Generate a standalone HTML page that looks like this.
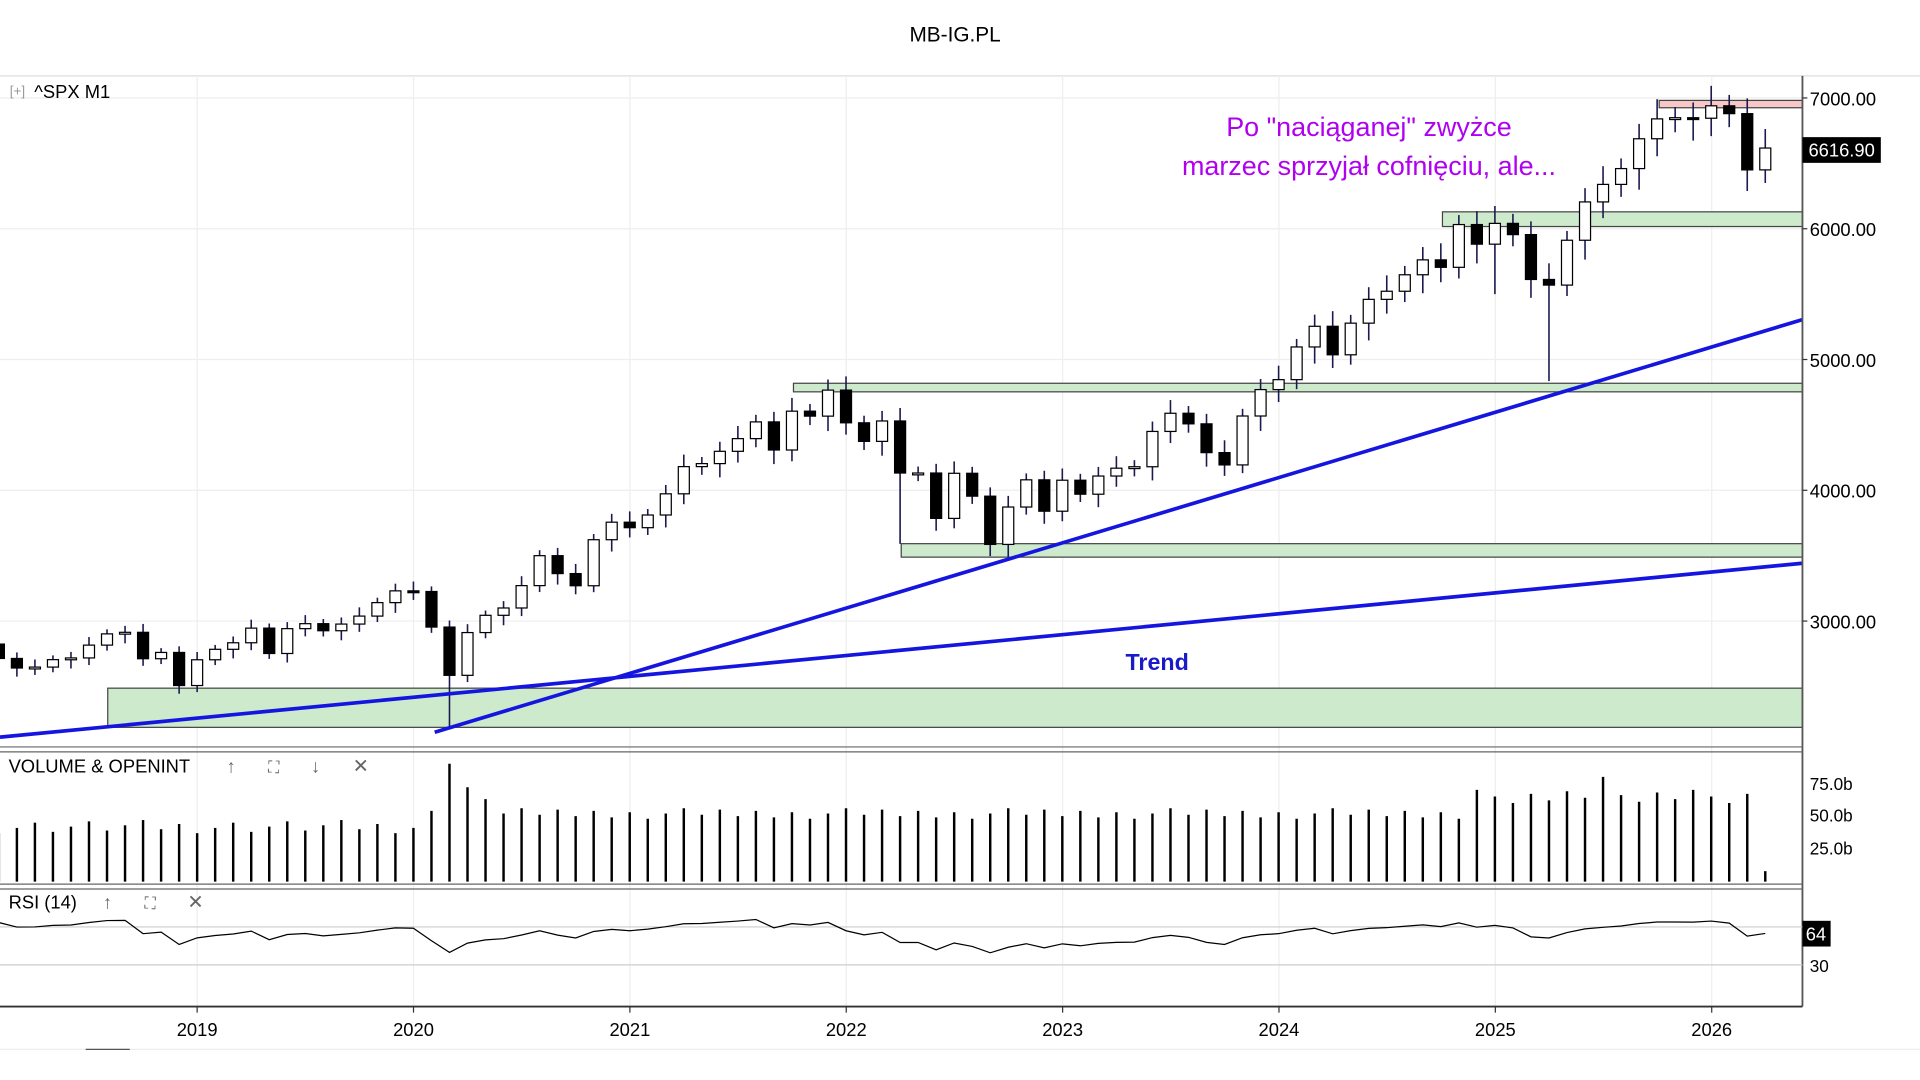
<!DOCTYPE html>
<html><head><meta charset="utf-8">
<style>html,body{margin:0;padding:0;background:#fff;width:1920px;height:1080px;overflow:hidden}</style>
</head><body>
<svg id="s" width="1920" height="1080" viewBox="0 0 1568 882" xmlns="http://www.w3.org/2000/svg" font-family="Liberation Sans, sans-serif">
<rect width="1568" height="882" fill="#fff"/>
<text x="780" y="34" font-size="17" text-anchor="middle" fill="#000">MB-IG.PL</text>
<line x1="0" y1="62" x2="1568" y2="62" stroke="#ddd"/>
<g id="grid" stroke="#eee" stroke-width="1"></g>
<rect x="1355" y="82" width="117" height="6" fill="#f8c8c8" stroke="#444" stroke-width="1"/>
<rect x="1178" y="173" width="294" height="12" fill="#cdeacd" stroke="#444" stroke-width="1"/>
<rect x="648" y="313" width="824" height="7" fill="#cdeacd" stroke="#444" stroke-width="1"/>
<rect x="736" y="444" width="736" height="11" fill="#cdeacd" stroke="#444" stroke-width="1"/>
<rect x="88" y="562" width="1384" height="32" fill="#cdeacd" stroke="#444" stroke-width="1"/>
<g id="candles"></g>
<line x1="0" y1="602" x2="1472" y2="460" stroke="#1515e0" stroke-width="3"/>
<line x1="355" y1="598" x2="1472" y2="261" stroke="#1515e0" stroke-width="3"/>
<text x="945" y="547" font-size="19" font-weight="bold" fill="#1a1ac8" text-anchor="middle">Trend</text>
<text x="1118" y="111" font-size="22" fill="#b000f0" text-anchor="middle">Po "naciąganej" zwyżce</text>
<text x="1118" y="143" font-size="22" fill="#b000f0" text-anchor="middle">marzec sprzyjał cofnięciu, ale...</text>
<text x="8" y="78" font-size="11" fill="#999">[+]</text>
<text x="28" y="80" font-size="15" fill="#000">^SPX  M1</text>
<line x1="1472" y1="62" x2="1472" y2="822" stroke="#555" stroke-width="1.5"/>
<g font-size="15" fill="#000" id="yl"></g>
<rect x="1472" y="112" width="64" height="21" fill="#000"/>
<text x="1504" y="128" font-size="15" fill="#fff" text-anchor="middle">6616.90</text>
<line x1="0" y1="610" x2="1472" y2="610" stroke="#666"/>
<line x1="0" y1="614" x2="1472" y2="614" stroke="#666"/>
<line x1="0" y1="722" x2="1472" y2="722" stroke="#666"/>
<line x1="0" y1="726" x2="1472" y2="726" stroke="#666"/>
<line x1="0" y1="822" x2="1472" y2="822" stroke="#333" stroke-width="1.5"/>
<text x="7" y="631" font-size="15">VOLUME &amp; OPENINT</text>
<text x="185" y="631" font-size="15" fill="#666">↑</text>
<text x="219" y="631" font-size="13" fill="#666">⛶</text>
<text x="254" y="631" font-size="15" fill="#666">↓</text>
<text x="288" y="631" font-size="16" fill="#666">✕</text>
<text x="7" y="742" font-size="15">RSI (14)</text>
<text x="84" y="742" font-size="15" fill="#666">↑</text>
<text x="118" y="742" font-size="13" fill="#666">⛶</text>
<text x="153" y="742" font-size="16" fill="#666">✕</text>
<line x1="0" y1="757" x2="1472" y2="757" stroke="#ccc"/>
<line x1="0" y1="788" x2="1472" y2="788" stroke="#ccc"/>
<g id="vol" stroke="#000" stroke-width="2"></g>
<polyline id="rsi" fill="none" stroke="#000" stroke-width="1"/>
<text x="1478" y="645" font-size="14">75.0b</text>
<text x="1478" y="671" font-size="14">50.0b</text>
<text x="1478" y="698" font-size="14">25.0b</text>
<rect x="1472" y="752" width="23" height="21" fill="#000"/>
<text x="1483" y="768" font-size="15" fill="#fff" text-anchor="middle">64</text>
<text x="1478" y="794" font-size="14">30</text>
<g id="xl" font-size="15" text-anchor="middle"></g>
<line x1="0" y1="857" x2="1568" y2="857" stroke="#eee"/>
<line x1="70" y1="857" x2="106" y2="857" stroke="#555"/>
</svg>
<script>
var NS="http://www.w3.org/2000/svg";
function el(p,t,a){var e=document.createElementNS(NS,t);for(var k in a)e.setAttribute(k,a[k]);document.getElementById(p).appendChild(e);return e;}
function Y(p){return 80+(7000-p)*0.1068;}
var yrs=[2018,2019,2020,2021,2022,2023,2024,2025,2026];
yrs.forEach(function(y,i){var x=161+(i-1)*176.7;
 el("grid","line",{x1:x,y1:62,x2:x,y2:822});
 var t=el("xl","text",{x:x,y:846});t.textContent=(y==2018?"8":y);
 el("xl","line",{x1:x,y1:822,x2:x,y2:827,stroke:"#333"});});
[3000,4000,5000,6000,7000].forEach(function(p){var y=Y(p);
 el("grid","line",{x1:0,y1:y,x2:1472,y2:y});
 el("yl","line",{x1:1472,y1:y,x2:1476,y2:y,stroke:"#333"});
 var t=el("yl","text",{x:1478,y:y+6});t.textContent=p.toFixed(2);});
var c=[2714,2641,2648,2705,2718,2816,2902,2914,2712,2760,2507,
2704,2784,2834,2946,2752,2942,2980,2926,2977,3038,3141,3231,
3226,2954,2585,2912,3044,3100,3271,3500,3363,3270,3622,3756,
3714,3811,3973,4181,4204,4298,4395,4523,4308,4605,4567,4766,
4516,4374,4530,4132,4132,3785,4130,3955,3586,3872,4080,3840,
4077,3970,4109,4169,4180,4450,4589,4508,4288,4194,4568,4770,
4846,5096,5254,5036,5278,5460,5522,5648,5762,5705,6032,5882,
6041,5955,5612,5569,5912,6205,6339,6460,6688,6840,6849,6845,
6940,6880,6450,6617];
var prev=2824;
var lowOv={25:2192,50:3590,56:3491,83:5500,86:4835,98:6350};
for(var i=0;i<c.length;i++){
 var x=161+(i-11)*14.72, o=prev, cl=c[i];
 var hi=Math.max(o,cl)*(1+0.012+0.01*((i*7)%3)/2), lo=lowOv[i]||Math.min(o,cl)*(1-0.015-0.01*((i*5)%3)/2);
 el("candles","line",{x1:x,y1:Y(hi),x2:x,y2:Y(lo),stroke:"#1a1a50","stroke-width":1.3});
 var t=Math.min(Y(o),Y(cl)),h=Math.max(1.5,Math.abs(Y(o)-Y(cl)));
 el("candles","rect",{x:x-4.5,y:t,width:9,height:h,fill:cl>=o?"#fff":"#000",stroke:"#000","stroke-width":1});
 prev=cl;
 var v=40+((i*37)%11)-3; if(i>=24)v=48+((i*13)%9);if(i==25)v=90;if(i==26)v=72;if(i==27)v=63;if(i>=82)v=60+((i*7)%12);if(i==89)v=80;if(c.length-1==i)v=8;
 el("vol","line",{x1:x,y1:720,x2:x,y2:720-v*1.07});
}
var pts=[],ag=0,al=0,arr=[2750,2800,2824].concat(c);
for(var i=1;i<arr.length;i++){var d=arr[i]-arr[i-1];var g=Math.max(d,0),l=Math.max(-d,0);
 if(i==1){ag=g+20;al=l+15;}else{ag=(ag*13+g)/14;al=(al*13+l)/14;}
 if(i>=3){var r=100-100/(1+ag/al);var x=161+(i-3-11)*14.72;pts.push(x.toFixed(1)+","+(788-(r-30)*0.77).toFixed(1));}}
pts.unshift("0,"+pts[0].split(",")[1]);
document.getElementById("rsi").setAttribute("points",pts.join(" "));
</script>
</body></html>
